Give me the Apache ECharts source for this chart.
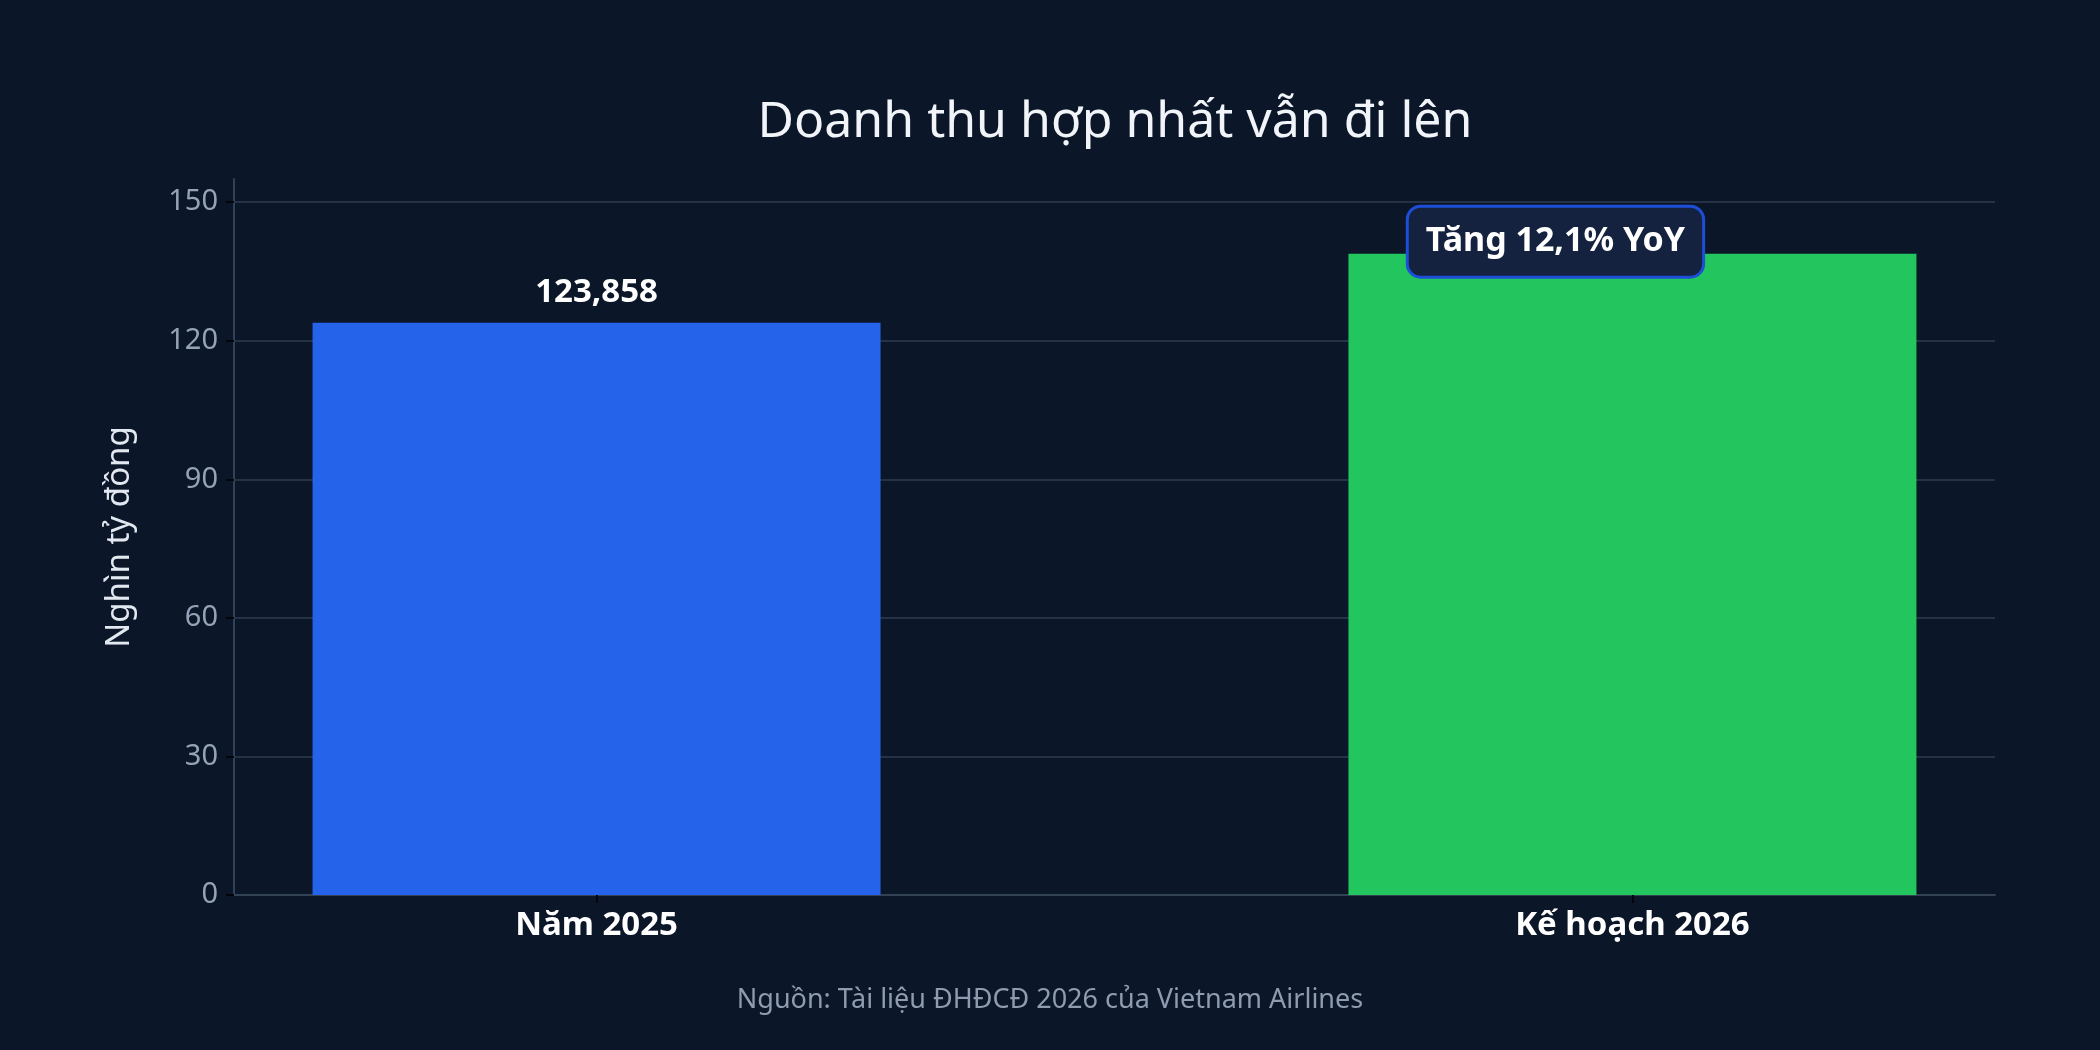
<!DOCTYPE html>
<html>
<head>
<meta charset="utf-8">
<title>Doanh thu hợp nhất</title>
<script src="https://cdn.jsdelivr.net/npm/echarts@6/dist/echarts.min.js"></script>
<style>
  html, body { margin: 0; padding: 0; background: #0b1628; }
  #main { width: 2100px; height: 1050px; }
</style>
</head>
<body>
<div id="main"></div>
<script>
// số liệu
var categories = ['Năm 2025', 'Kế hoạch 2026'];
var revenue = [123.858, 138.84];
var barColors = ['#2563eb', '#22c55e'];
var yTicks = [0, 30, 60, 90, 120, 150];
var growthNote = 'Tăng 12,1% YoY';

var font = '"Noto Sans", "DejaVu Sans", sans-serif';
var myChart = echarts.init(document.getElementById('main'));

var data = revenue.map(function (v, i) {
    var item = { value: [i, v], itemStyle: { color: barColors[i] } };
    if (i === 1) {
        // nhãn tăng trưởng đè lên đỉnh cột
        item.label = {
            show: true,
            position: 'top',
            distance: 0,
            offset: [-77, 22],
            formatter: growthNote,
            color: '#ffffff',
            fontSize: 34,
            fontWeight: 'bold',
            fontFamily: font,
            backgroundColor: '#14223f',
            borderColor: '#1d4ed8',
            borderWidth: 3,
            borderRadius: 12,
            padding: [17, 17, 17, 17]
        };
    }
    return item;
});

var option = {
    backgroundColor: '#0b1628',
    textStyle: { fontFamily: font },
    title: [{
        text: 'Doanh thu hợp nhất vẫn đi lên',
        left: 1110,
        textAlign: 'center',
        top: 93,
        textStyle: { color: '#f1f5f9', fontSize: 50, fontWeight: 'normal', fontFamily: font }
    }, {
        text: 'Nguồn: Tài liệu ĐHĐCĐ 2026 của Vietnam Airlines',
        left: 'center',
        top: 982,
        textStyle: { color: '#8e9bb0', fontSize: 27, fontWeight: 'normal', fontFamily: font }
    }],
    grid: { left: 234, right: 105, top: 179, bottom: 155 },
    xAxis: {
        type: 'value',
        min: -0.35,
        max: 1.35,
        splitLine: { show: false },
        axisLine: { show: true, lineStyle: { color: '#334155', width: 2 } },
        axisTick: { show: true, customValues: [0, 1], length: 8, lineStyle: { color: '#02050a', width: 2 } },
        axisLabel: {
            customValues: [0, 1],
            formatter: function (v) { return categories[Math.round(v)]; },
            color: '#ffffff',
            fontSize: 33,
            fontWeight: 'bold',
            fontFamily: font,
            margin: 14
        }
    },
    yAxis: {
        type: 'value',
        min: 0,
        max: 155,
        name: 'Nghìn tỷ đồng',
        nameLocation: 'middle',
        nameGap: 98,
        nameTextStyle: { color: '#e2e8f0', fontSize: 33, fontFamily: font },
        axisLine: { show: true, onZero: false, lineStyle: { color: '#334155', width: 2 } },
        axisTick: { show: true, customValues: yTicks, length: 8, lineStyle: { color: '#02050a', width: 2 } },
        axisLabel: { customValues: yTicks, color: '#94a3b8', fontSize: 29, fontFamily: font, margin: 16 },
        splitLine: {
            show: true,
            lineStyle: {
                color: ['#253246', '#253246', '#253246', '#253246', '#253246', '#253246', 'rgba(0,0,0,0)'],
                width: 2
            }
        }
    },
    series: [{
        type: 'bar',
        barWidth: 568,
        data: data,
        label: {
            show: true,
            position: 'top',
            distance: 14,
            formatter: function (p) { return p.value[1].toFixed(3).replace('.', ','); },
            color: '#ffffff',
            fontSize: 33,
            fontWeight: 'bold',
            fontFamily: font
        }
    }]
};

myChart.setOption(option);
</script>
</body>
</html>
